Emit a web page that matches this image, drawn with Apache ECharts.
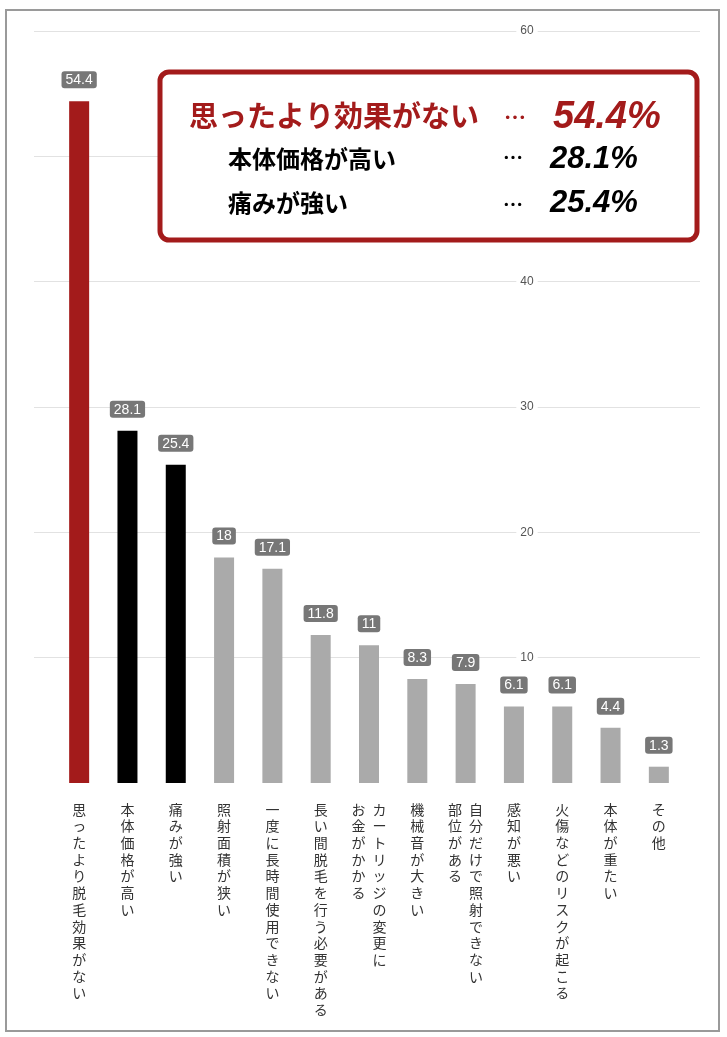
<!DOCTYPE html>
<html>
<head>
<meta charset="utf-8">
<script src="https://cdn.jsdelivr.net/npm/echarts@6/dist/echarts.min.js"></script>
<style>
html,body{margin:0;padding:0;background:#fff;}
#chart{width:727px;height:1037px;}
</style>
</head>
<body>
<div id="chart"></div>
<script>
// ---- data ----
const categories = [
  '思ったより脱毛効果がない',
  '本体価格が高い',
  '痛みが強い',
  '照射面積が狭い',
  '一度に長時間使用できない',
  '長い間脱毛を行う必要がある',
  'カートリッジの変更に\nお金がかかる',
  '機械音が大きい',
  '自分だけで照射できない\n部位がある',
  '感知が悪い',
  '火傷などのリスクが起こる',
  '本体が重たい',
  'その他'
];
const values = [54.4, 28.1, 25.4, 18, 17.1, 11.8, 11, 8.3, 7.9, 6.1, 6.1, 4.4, 1.3];
const yTicks = [0, 10, 20, 30, 40, 50, 60];
const calloutNames = ['思ったより効果がない', '本体価格が高い', '痛みが強い'];
const calloutValues = ['54.4%', '28.1%', '25.4%'];

// ---- chart ----
const RED = '#a31b1b';
const chart = echarts.init(document.getElementById('chart'));

function verticalLabel(s) {
  const cols = s.split('\n');            // first column is rightmost
  const ordered = cols.slice().reverse(); // left to right
  const maxLen = Math.max(...cols.map(c => c.length));
  const rows = [];
  for (let r = 0; r < maxLen; r++) {
    rows.push(ordered.map(c => c[r] || '\u3000').join('\u2002'));
  }
  return rows.join('\n');
}

const JP = '"Noto Sans CJK JP", sans-serif';
const NUM = '"Liberation Sans", Arial, sans-serif';

const option = {
  backgroundColor: '#fff',
  animation: false,
  grid: [
    { left: 55, right: 44, top: 31, bottom: 254 },
    { left: 34, right: 27, top: 31, bottom: 254 }
  ],
  xAxis: [
    {
      type: 'category', gridIndex: 0, data: categories,
      axisLine: { show: false }, axisTick: { show: false },
      axisLabel: {
        interval: 0, margin: 18, color: '#333', fontSize: 14, lineHeight: 16.7,
        fontFamily: JP, formatter: verticalLabel
      }
    },
    { type: 'value', gridIndex: 1, show: false, min: 0, max: 1 }
  ],
  yAxis: [
    { type: 'value', gridIndex: 0, min: yTicks[0], max: yTicks[yTicks.length - 1], show: false },
    {
      type: 'value', gridIndex: 1, min: yTicks[0], max: yTicks[yTicks.length - 1],
      interval: yTicks[1] - yTicks[0],
      axisLine: { show: false }, axisTick: { show: false },
      splitLine: { show: true, showMinLine: false, lineStyle: { color: '#e2e2e2', width: 1 } },
      axisLabel: {
        inside: true, margin: 493, align: 'center', showMinLabel: false,
        color: '#555', fontSize: 12, fontFamily: NUM,
        backgroundColor: '#fff', padding: [0, 4]
      }
    }
  ],
  series: [{
    type: 'bar',
    xAxisIndex: 0, yAxisIndex: 0,
    data: values,
    barWidth: 20,
    itemStyle: {
      color: p => p.dataIndex === 0 ? RED : (p.dataIndex <= 2 ? '#000' : '#aaaaaa')
    },
    label: {
      show: true, position: 'top', distance: 13,
      color: '#fff', fontSize: 14, fontFamily: NUM,
      backgroundColor: '#777', borderRadius: 3, padding: [2, 4, 1, 4]
    }
  }],
  graphic: [
    {
      type: 'rect', z: 100, silent: true,
      shape: { x: 6, y: 10, width: 713, height: 1021 },
      style: { fill: 'none', stroke: '#9a9a9a', lineWidth: 2 }
    },
    {
      type: 'rect', z: 100,
      shape: { x: 160, y: 72, width: 537, height: 168, r: 9 },
      style: { fill: '#fff', stroke: RED, lineWidth: 5 }
    },
    // line 1
    { type: 'text', z: 101, x: 189, y: 116,
      style: { text: calloutNames[0], font: 'bold 29px ' + JP, fill: RED, textVerticalAlign: 'middle' } },
    { type: 'text', z: 101, x: 515, y: 117,
      style: { text: '…', font: 'bold 22px ' + JP, fill: RED, textAlign: 'center', textVerticalAlign: 'middle' } },
    { type: 'text', z: 101, x: 553, y: 118,
      style: { text: calloutValues[0], font: 'italic bold 38px ' + NUM, fill: RED, textVerticalAlign: 'middle' } },
    // line 2
    { type: 'text', z: 101, x: 228, y: 159,
      style: { text: calloutNames[1], font: 'bold 24px ' + JP, fill: '#000', textVerticalAlign: 'middle' } },
    { type: 'text', z: 101, x: 513, y: 157,
      style: { text: '…', font: 'bold 20px ' + JP, fill: '#000', textAlign: 'center', textVerticalAlign: 'middle' } },
    { type: 'text', z: 101, x: 550, y: 159,
      style: { text: calloutValues[1], font: 'italic bold 31px ' + NUM, fill: '#000', textVerticalAlign: 'middle' } },
    // line 3
    { type: 'text', z: 101, x: 228, y: 203,
      style: { text: calloutNames[2], font: 'bold 24px ' + JP, fill: '#000', textVerticalAlign: 'middle' } },
    { type: 'text', z: 101, x: 513, y: 204,
      style: { text: '…', font: 'bold 20px ' + JP, fill: '#000', textAlign: 'center', textVerticalAlign: 'middle' } },
    { type: 'text', z: 101, x: 550, y: 203,
      style: { text: calloutValues[2], font: 'italic bold 31px ' + NUM, fill: '#000', textVerticalAlign: 'middle' } }
  ]
};
chart.setOption(option);
</script>
</body>
</html>
